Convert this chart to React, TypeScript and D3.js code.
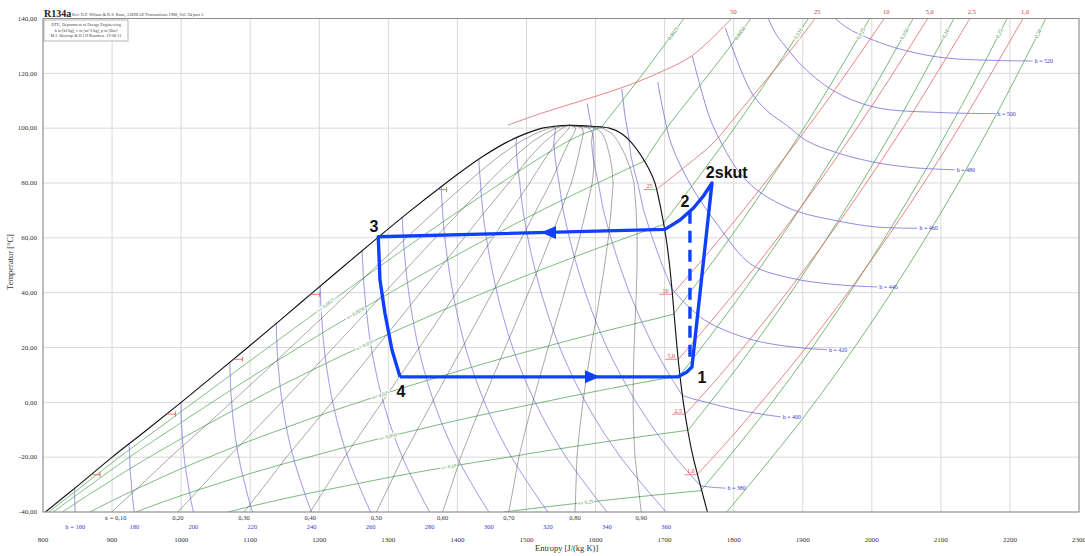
import React from "react";
import * as d3 from "d3";

// ---------- axes ----------
const sDomain = [800, 2300];
const tDomain = [-40, 140];
const sTicks = [800, 900, 1000, 1100, 1200, 1300, 1400, 1500, 1600, 1700, 1800, 1900, 2000, 2100, 2200, 2300];
const tTicks = [-40, -20, 0, 20, 40, 60, 80, 100, 120, 140];

// ---------- saturation table R134a (s in J/(kg K), h in kJ/kg, v in m3/kg) ----------
const satT = [-40, -30, -20, -10, 0, 10, 20, 30, 40, 50, 60, 70, 80, 85, 90, 95, 98, 100, 100.7, 101.06];
const satSf = [803.5, 852.5, 900.2, 950.6, 1000, 1048.5, 1096.3, 1143.5, 1190.3, 1237.1, 1284.3, 1332.7, 1383.5, 1410.1, 1438.8, 1472.4, 1499, 1523, 1540, 1562.1];
const satSg = [1762.0, 1751.5, 1741.3, 1733.4, 1727.1, 1722.1, 1718.0, 1714.5, 1711.1, 1707.2, 1702.1, 1695.0, 1686.0, 1677.5, 1666.0, 1651.0, 1638.0, 1620.0, 1595.0, 1562.1];
const satHf = [149.9, 161.6, 173.6, 186.7, 200.0, 213.6, 227.5, 241.7, 256.4, 271.6, 287.5, 304.3, 322.4, 332.2, 342.9, 355.4, 364.5, 373.3, 381.0, 389.6];
const satHg = [374.0, 380.3, 386.6, 392.7, 398.6, 404.3, 409.8, 414.8, 419.4, 423.4, 426.6, 428.7, 428.8, 427.8, 425.4, 420.8, 415.5, 407.7, 399.0, 389.6];
const satVf = [0.000705, 0.00072, 0.000736, 0.000754, 0.000772, 0.000794, 0.000816, 0.000842, 0.000872, 0.000908, 0.000951, 0.001005, 0.001077, 0.001125, 0.001187, 0.001281, 0.00138, 0.001527, 0.0017, 0.001953];
const satVg = [0.3606, 0.226, 0.1464, 0.0992, 0.0693, 0.0495, 0.036, 0.0266, 0.02, 0.0151, 0.01146, 0.00867, 0.00648, 0.00554, 0.00467, 0.00383, 0.00324, 0.00268, 0.0023, 0.001953];

// ---------- line families ----------
const qualities = [0.1, 0.2, 0.3, 0.4, 0.5, 0.6, 0.7, 0.8, 0.9];
const qualityLabels = ["x = 0,10", "0,20", "0,30", "0,40", "0,50", "0,60", "0,70", "0,80", "0,90"];
const domeEnthalpies = [160, 180, 200, 220, 240, 260, 280, 300, 320, 340, 360, 380, 400, 420];
const bottomEnthalpyLabels = ["h = 160", "180", "200", "220", "240", "260", "280", "300", "320", "340", "360"];
const volumes = [0.0025, 0.005, 0.01, 0.025, 0.05, 0.1, 0.25];
const volumeLabels = ["0,0025", "0,0050", "0,010", "0,025", "0,050", "0,10", "0,25", "0,50"];
const volumeLabelT = [35.5, 32.6, 20.9, 2.7, -12.5, -23.5, -36.5];

// isobars in superheated region [s, T]
const isobarLabels = ["50", "25", "10", "5,0", "2,5", "1,0"];
const isobarTsat = [77.6, 39.4, 15.7, -4.3, -26.4];
const isobar50 = [[1473, 101.1], [1520, 105.3], [1577, 109.8], [1635, 114.5], [1690, 120], [1740, 126.5], [1797, 140]];
const isobar25 = [[1688, 77.6], [1730, 86], [1770, 94.5], [1810, 106.5], [1850, 118.5], [1885, 129.2], [1918, 140]];
const isobar10 = [[1711, 39.4], [1760, 53.6], [1820, 72], [1880, 91.3], [1940, 111.7], [2018, 140]];
const isobar5 = [[1720, 15.7], [1770, 30.4], [1840, 52.2], [1920, 79], [2000, 108.1], [2081, 140]];
const isobar2_5 = [[1730, -4.3], [1780, 9.8], [1860, 34.5], [1950, 64.8], [2050, 102.1], [2142, 140]];
const isobar1 = [[1747, -26.4], [1800, -11.7], [1900, 18.5], [2000, 52.1], [2110, 93.6], [2219, 140]];

// isochores in superheated region [s, T]
const iso0025 = [[1608, 100.2], [1664, 118.3], [1728, 140]];
const iso0050 = [[1671, 88], [1700, 99], [1740, 112], [1785, 126.5], [1825, 140]];
const iso010 = [[1698, 65.2], [1750, 82.4], [1800, 99.7], [1855, 119.8], [1908, 140]];
const iso025 = [[1714, 32.5], [1780, 54.8], [1850, 80.1], [1925, 109.5], [1997, 140]];
const iso050 = [[1722, 9.7], [1800, 35.6], [1880, 64.5], [1970, 100.4], [2060, 140]];
const iso10 = [[1734, -10.2], [1820, 17.7], [1920, 54], [2020, 94.7], [2119, 140]];
const iso25 = [[1754, -31.8], [1850, -1.9], [1950, 33.2], [2050, 72.8], [2130, 108.2], [2196, 140]];
const iso50 = [[1790, -40], [1900, -5.9], [2000, 29.3], [2100, 69.1], [2180, 104.8], [2252, 140]];

// isenthalps in superheated / supercritical region [s, T]
const h380 = [[1752, -30.5], [1770, -31], [1788, -31.3]];
const h400 = [[1726, 2.5], [1742, 1.2], [1761, 0], [1790, -1.9], [1819, -3.4], [1845, -4.5], [1868, -5.3]];
const h420 = [[1710.5, 41.5], [1730, 36], [1758, 30], [1790, 26], [1830, 22.6], [1867, 20.8], [1910, 19.6], [1935, 19.2]];
const h440 = [[1690, 116.8], [1699, 105], [1710, 94], [1737, 79.6], [1776, 65], [1825, 50.4], [1883, 45.3], [1955, 42.8], [2008, 42.1]];
const h460 = [[1740, 126.3], [1752, 115], [1765, 104], [1780, 95.7], [1805, 85], [1834, 77.4], [1887, 70.1], [1944, 66.5], [2005, 64], [2066, 63.5]];
const h480 = [[1788, 136.5], [1795, 131.5], [1810, 121.5], [1828, 112.1], [1850, 106], [1877, 101], [1905, 95.5], [1950, 91], [2005, 87.5], [2060, 85.6], [2120, 84.8]];
const h500 = [[1850, 140], [1862, 134], [1877, 129.2], [1900, 122.5], [1944, 113.7], [2005, 107.6], [2100, 105.7], [2179, 105.3]];
const h520 = [[1947, 140], [1962, 137], [1980, 134.5], [2033, 129.4], [2100, 125.8], [2180, 124.7], [2233, 124.5]];
const h400top = [[1594, 100.7], [1591, 104.5], [1588, 109]];
const h420top = [[1649, 95.5], [1643, 104], [1638, 114.3]];
const superLabels = ["h = 380", "h = 400", "h = 420", "h = 440", "h = 460", "h = 480", "h = 500", "h = 520"];

// refrigeration cycle [s, T]
const cycleS = [1316.9, 1719.4, 1732.4, 1739.6, 1768.6, 1755.5, 1741.5, 1722.3, 1700.5, 1285.4, 1287.9, 1295.1, 1305.3, 1316.9];
const cycleT = [9.3, 9.3, 11.1, 12.9, 80.0, 75.0, 70.8, 66.5, 63.1, 60.4, 44.6, 32.5, 19.1, 9.3];
const dashS = [1736.7, 1736.7];
const dashT = [69.5, 14.3];
const arrowS = [1521, 1606.4];
const arrowT = [61.9, 9.3];
const arrowDir = [-1, 1];
const cycleLabels = ["1", "2", "2skut", "3", "4"];
const cycleLabelS = [1754, 1729.5, 1790, 1279.3, 1318.3];
const cycleLabelT = [7.0, 71.2, 81.8, 62.1, 1.9];

// ---------- helpers ----------
type Row = { T: number; sf: number; sg: number; hf: number; hg: number; vf: number; vg: number };
function sat(T: number): Row {
  let i = d3.bisectRight(satT, T) - 1;
  i = Math.max(0, Math.min(satT.length - 2, i));
  const f = (T - satT[i]) / (satT[i + 1] - satT[i]);
  const lin = (a: number[]) => a[i] + f * (a[i + 1] - a[i]);
  const lg = (a: number[]) => Math.exp(Math.log(a[i]) + f * (Math.log(a[i + 1]) - Math.log(a[i])));
  return { T, sf: lin(satSf), sg: lin(satSg), hf: lin(satHf), hg: lin(satHg), vf: lin(satVf), vg: lg(satVg) };
}
const samples = d3.range(-40, 100.9, 0.25).concat([100.9]);
const qSamples = d3.range(-40, 101.0, 0.5).concat([101.06]);

function twoPhase(xOf: (r: Row) => number): number[][][] {
  const segs: number[][][] = [];
  let cur: number[][] = [];
  let prev: { r: Row; x: number } | null = null;
  for (const T of samples) {
    const r = sat(T);
    const xv = xOf(r);
    const inside = xv >= 0 && xv <= 1;
    if (prev) {
      const pin = prev.x >= 0 && prev.x <= 1;
      if (pin !== inside) {
        const b = prev.x < 0 || xv < 0 ? 0 : 1;
        const f = (b - prev.x) / (xv - prev.x);
        const Tb = prev.r.T + f * (T - prev.r.T);
        const rb = sat(Tb);
        cur.push([b === 0 ? rb.sf : rb.sg, Tb]);
        if (!inside) {
          segs.push(cur);
          cur = [];
        }
      }
    }
    if (inside) cur.push([r.sf + xv * (r.sg - r.sf), T]);
    prev = { r, x: xv };
  }
  if (cur.length > 1) segs.push(cur);
  return segs;
}

function pointAtT(pts: number[][], T: number): number[] {
  for (let i = 0; i < pts.length - 1; i++) {
    const a = pts[i], b = pts[i + 1];
    if ((T - a[1]) * (T - b[1]) <= 0) {
      const f = (T - a[1]) / (b[1] - a[1]);
      return [a[0] + f * (b[0] - a[0]), T];
    }
  }
  return pts[pts.length - 1];
}

const fmtComma = (v: number) => v.toFixed(2).replace(".", ",");

export default function App() {
  const sx = d3.scaleLinear().domain(sDomain).range([43, 1079]);
  const ty = d3.scaleLinear().domain(tDomain).range([512, 18.5]);
  const lin = d3.line<number[]>().x((d) => sx(d[0])).y((d) => ty(d[1]));
  const smooth = d3
    .line<number[]>()
    .x((d) => sx(d[0]))
    .y((d) => ty(d[1]))
    .curve(d3.curveCatmullRom.alpha(0.5));

  const serif = "'Liberation Serif', 'DejaVu Serif', serif";
  const sans = "'Liberation Sans', Arial, sans-serif";
  const blue = "#7070d8";
  const blueText = "#3b3bd0";
  const green = "#55a455";
  const greenText = "#3f8f3f";
  const red = "#e36464";
  const redText = "#d23c3c";

  // dome
  const liquid = satT.map((T, i) => [satSf[i], T]);
  const vapor = satT.map((T, i) => [satSg[i], T]).reverse().slice(1);
  const dome = liquid.concat(vapor);

  // quality lines
  const qualityLines = qualities.map((q) =>
    qSamples.map((T) => {
      const r = sat(T);
      return [r.sf + q * (r.sg - r.sf), T];
    })
  );

  const hDome = domeEnthalpies.map((h) => twoPhase((r) => (h - r.hf) / (r.hg - r.hf)));
  const vDome = volumes.map((v) => twoPhase((r) => (v - r.vf) / (r.vg - r.vf)));

  const isobars = [isobar50, isobar25, isobar10, isobar5, isobar2_5, isobar1];
  const isochores = [iso0025, iso0050, iso010, iso025, iso050, iso10, iso25, iso50];
  const superH = [h380, h400, h420, h440, h460, h480, h500, h520];
  const extraH = [h400top, h420top];

  const halo = { stroke: "#fff", strokeWidth: 2.2, paintOrder: "stroke" as const };

  const angleDeg = (p1: number[], p2: number[]) => {
    const a = Math.atan2(ty(p2[1]) - ty(p1[1]), sx(p2[0]) - sx(p1[0]));
    let deg = (a * 180) / Math.PI;
    if (deg > 90) deg -= 180;
    if (deg < -90) deg += 180;
    return deg;
  };

  const vLabelEls = volumes.map((v, i) => {
    const T = volumeLabelT[i];
    const at = (TT: number) => {
      const r = sat(TT);
      const xv = (v - r.vf) / (r.vg - r.vf);
      return [r.sf + xv * (r.sg - r.sf), TT];
    };
    const p = at(T);
    const ang = angleDeg(at(T - 1), at(T + 1));
    return (
      <text
        key={"vl" + i}
        transform={`translate(${sx(p[0])},${ty(p[1])}) rotate(${ang})`}
        textAnchor="middle"
        dy="1.6"
        fontSize={5}
        fontFamily={serif}
        fill={greenText}
        style={halo}
      >
        {"v= " + volumeLabels[i]}
      </text>
    );
  });

  const vTopEls = isochores.map((pts, i) => {
    const p = pointAtT(pts, 134.5);
    const ang = angleDeg(pointAtT(pts, 131), pointAtT(pts, 138));
    return (
      <text
        key={"vt" + i}
        transform={`translate(${sx(p[0])},${ty(p[1])}) rotate(${ang})`}
        textAnchor="middle"
        dy="1.8"
        fontSize={5.5}
        fontFamily={serif}
        fill={greenText}
        style={halo}
      >
        {volumeLabels[i]}
      </text>
    );
  });

  const cyclePts = cycleS.map((s, i) => [s, cycleT[i]]);
  const dashPts = dashS.map((s, i) => [s, dashT[i]]);

  return (
    <svg
      width={1085}
      height={556}
      viewBox="0 0 1085 556"
      style={{ position: "absolute", left: 0, top: 0, background: "#fff" }}
    >
      <defs>
        <clipPath id="plotclip">
          <rect x={43} y={18.5} width={1036} height={493.5} />
        </clipPath>
      </defs>
      <rect x={0} y={0} width={1085} height={556} fill="#fff" />

      <g stroke="#d9d9d9" strokeWidth={1}>
        {sTicks.map((s) => (
          <line key={"gx" + s} x1={sx(s)} x2={sx(s)} y1={18.5} y2={512} />
        ))}
        {tTicks.map((t) => (
          <line key={"gy" + t} x1={43} x2={1079} y1={ty(t)} y2={ty(t)} />
        ))}
      </g>

      <g clipPath="url(#plotclip)" fill="none">
        <g stroke={green} strokeWidth={0.8}>
          {vDome.map((segs, i) => segs.map((seg, j) => <path key={"vd" + i + "_" + j} d={lin(seg) || ""} />))}
          {isochores.map((pts, i) => (
            <path key={"vs" + i} d={smooth(pts) || ""} />
          ))}
        </g>
        <g stroke={red} strokeWidth={0.8}>
          {isobars.map((pts, i) => (
            <path key={"pb" + i} d={smooth(pts) || ""} />
          ))}
        </g>
        <g stroke={blue} strokeWidth={0.8}>
          {hDome.map((segs, i) => segs.map((seg, j) => <path key={"hd" + i + "_" + j} d={lin(seg) || ""} />))}
          {superH.map((pts, i) => (
            <path key={"hs" + i} d={smooth(pts) || ""} />
          ))}
          {extraH.map((pts, i) => (
            <path key={"hx" + i} d={smooth(pts) || ""} />
          ))}
        </g>
        <g stroke="#3c3c3c" strokeWidth={0.55} strokeOpacity={0.85}>
          {qualityLines.map((pts, i) => (
            <path key={"q" + i} d={lin(pts) || ""} />
          ))}
        </g>
        <path d={smooth(dome) || ""} stroke="#151515" strokeWidth={1.15} />

        <g stroke={red} strokeWidth={0.9}>
          {isobarTsat.map((T, i) => {
            const r = sat(T);
            const X = sx(r.sf);
            const Y = ty(T);
            return <path key={"lm" + i} d={`M${X},${Y}H${X + 9}M${X + 9},${Y - 2.5}V${Y + 2.5}`} />;
          })}
        </g>
        {isobarTsat.map((T, i) => {
          const r = sat(T);
          const X = sx(r.sg);
          const Y = ty(T);
          return (
            <g key={"vm" + i}>
              <line x1={X - 13} x2={X - 1} y1={Y} y2={Y} stroke={red} strokeWidth={0.8} />
              <text x={X - 7} y={Y - 1.5} textAnchor="middle" fontSize={6} fontFamily={serif} fill={redText}>
                {isobarLabels[i + 1]}
              </text>
            </g>
          );
        })}
        {vLabelEls}
        {vTopEls}
        {superH.map((pts, i) => {
          const p = pts[pts.length - 1];
          return (
            <text
              key={"hl" + i}
              x={sx(p[0]) + 2}
              y={ty(p[1])}
              dy="2"
              fontSize={6}
              fontFamily={serif}
              fill={blueText}
            >
              {superLabels[i]}
            </text>
          );
        })}
      </g>

      <rect x={43} y={18.5} width={1036} height={493.5} fill="none" stroke="#8c8c8c" strokeWidth={1} />

      {isobars.map((pts, i) => {
        const p = pts[pts.length - 1];
        return (
          <text key={"tl" + i} x={sx(p[0]) + 2} y={14} textAnchor="middle" fontSize={6.5} fontFamily={serif} fill={redText}>
            {isobarLabels[i]}
          </text>
        );
      })}

      {tTicks.map((t) => (
        <text key={"yl" + t} x={37} y={ty(t)} dy="2.3" textAnchor="end" fontSize={7} fontFamily={serif} fill="#333">
          {fmtComma(t)}
        </text>
      ))}
      {sTicks.map((s) => (
        <text key={"xl" + s} x={sx(s)} y={542} textAnchor="middle" fontSize={7} fontFamily={serif} fill="#333">
          {s}
        </text>
      ))}
      {qualities.map((q, i) => {
        const r = sat(-40);
        const X = sx(r.sf + q * (r.sg - r.sf));
        return (
          <text key={"ql" + i} x={i === 0 ? X + 4 : X} y={520} textAnchor="middle" fontSize={6.5} fontFamily={serif} fill="#333">
            {qualityLabels[i]}
          </text>
        );
      })}
      {bottomEnthalpyLabels.map((lab, i) => {
        const h = domeEnthalpies[i];
        const r = sat(-40);
        const xv = (h - r.hf) / (r.hg - r.hf);
        const X = sx(r.sf + xv * (r.sg - r.sf));
        return (
          <text key={"bl" + i} x={X} y={529} textAnchor="middle" fontSize={6.5} fontFamily={serif} fill={blueText}>
            {lab}
          </text>
        );
      })}

      <text x={535} y={551} fontSize={8.5} fontFamily={serif} fill="#333">
        Entropy [J/(kg K)]
      </text>
      <text transform="translate(13,262) rotate(-90)" textAnchor="middle" fontSize={8.5} fontFamily={serif} fill="#333">
        Temperatur [°C]
      </text>

      <text x={44} y={17} fontSize={10} fontWeight="bold" fontFamily={serif} fill="#222">
        R134a
      </text>
      <text x={72} y={16} fontSize={4.4} fontFamily={serif} fill="#444">
        Ref: D.P. Wilson &amp; R.S. Basu, ASHRAE Transactions 1988, Vol. 94 part 2.
      </text>
      <rect x={44} y={20} width={84} height={21} fill="#fff" stroke="#888" strokeWidth={0.6} />
      <g fontSize={4.2} fontFamily={serif} fill="#444" textAnchor="middle">
        <text x={86} y={26}>DTU, Department of Energy Engineering</text>
        <text x={86} y={31.5}>h in [kJ/kg], v in [m^3/kg], p in [Bar]</text>
        <text x={86} y={37}>M.J. Skovrup &amp; H.J.H Knudsen. 19-06-11</text>
      </g>

      <path d={lin(cyclePts) || ""} fill="none" stroke="#1040ff" strokeWidth={3.4} strokeLinejoin="round" />
      <path d={lin(dashPts) || ""} fill="none" stroke="#1040ff" strokeWidth={3.4} strokeDasharray="12 7" />
      {arrowS.map((s, i) => {
        const X = sx(s);
        const Y = ty(arrowT[i]);
        const d = arrowDir[i];
        return (
          <path key={"ar" + i} d={`M${X},${Y}L${X - d * 15},${Y - 6.5}L${X - d * 15},${Y + 6.5}Z`} fill="#1040ff" />
        );
      })}
      {cycleLabels.map((lab, i) => (
        <text
          key={"cl" + i}
          x={sx(cycleLabelS[i])}
          y={ty(cycleLabelT[i])}
          textAnchor="middle"
          fontSize={16}
          fontWeight="bold"
          fontFamily={sans}
          fill="#111"
        >
          {lab}
        </text>
      ))}
    </svg>
  );
}
